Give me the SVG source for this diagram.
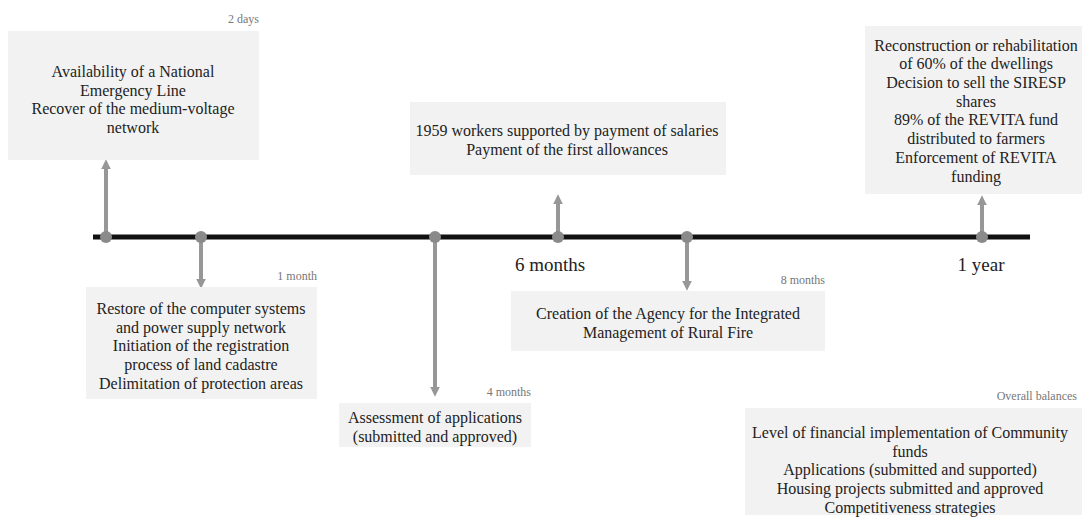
<svg xmlns="http://www.w3.org/2000/svg" width="1082" height="520" viewBox="0 0 1082 520">
<style>
.box{fill:#f2f2f2}
.t{font-family:"Liberation Serif","Times New Roman",serif;font-size:16px;fill:#222;text-anchor:middle}
.lbl{font-family:"Liberation Serif","Times New Roman",serif;font-size:12px;fill:#777;text-anchor:end}
.big{font-family:"Liberation Serif","Times New Roman",serif;font-size:19px;fill:#222;text-anchor:middle}
.arr{stroke:#979797;stroke-width:4;fill:none;marker-end:url(#ah)}
.dot{fill:#8a8a8a}
</style>
<defs>
<marker id="ah" viewBox="0 0 10 10" refX="2" refY="5" markerWidth="2.4" markerHeight="2.4" orient="auto" markerUnits="strokeWidth">
<path d="M0,0 L10,5 L0,10 z" fill="#979797"/>
</marker>
</defs>
<rect width="1082" height="520" fill="#fff"/>
<g id="timeline">
<line x1="93" y1="237" x2="1030" y2="237" stroke="#111" stroke-width="5"/>
<text class="big" x="550" y="271">6 months</text>
<text class="big" x="981" y="271">1 year</text>
</g>
<g id="connectors">
<line class="arr" x1="106" y1="237" x2="106" y2="167"/>
<line class="arr" x1="201" y1="237" x2="201" y2="281"/>
<line class="arr" x1="435" y1="237" x2="435" y2="389"/>
<line class="arr" x1="558" y1="237" x2="558" y2="202"/>
<line class="arr" x1="687" y1="237" x2="687" y2="283"/>
<line class="arr" x1="982" y1="237" x2="982" y2="203"/>
<circle class="dot" cx="106" cy="237" r="6"/>
<circle class="dot" cx="201" cy="237" r="6"/>
<circle class="dot" cx="435" cy="237" r="6"/>
<circle class="dot" cx="558" cy="237" r="6"/>
<circle class="dot" cx="687" cy="237" r="6"/>
<circle class="dot" cx="982" cy="237" r="6"/>
</g>
<g id="n-2days">
<text class="lbl" x="259" y="23">2 days</text>
<rect class="box" x="8" y="31" width="251" height="129"/>
<text class="t" x="133" y="77">Availability of a National</text>
<text class="t" x="133" y="95.5">Emergency Line</text>
<text class="t" x="133" y="114">Recover of the medium-voltage</text>
<text class="t" x="133" y="132.5">network</text>
</g>
<g id="n-1month">
<text class="lbl" x="317" y="280">1 month</text>
<rect class="box" x="86" y="287" width="231" height="112"/>
<text class="t" x="201" y="313.5">Restore of the computer systems</text>
<text class="t" x="201" y="332.5">and power supply network</text>
<text class="t" x="201" y="351">Initiation of the registration</text>
<text class="t" x="201" y="369.5">process of land cadastre</text>
<text class="t" x="201" y="388.5">Delimitation of protection areas</text>
</g>
<g id="n-4months">
<text class="lbl" x="531" y="396">4 months</text>
<rect class="box" x="339" y="403" width="192" height="44"/>
<text class="t" x="435" y="422.5">Assessment of applications</text>
<text class="t" x="435" y="441.5">(submitted and approved)</text>
</g>
<g id="n-6months">
<rect class="box" x="410" y="102" width="316" height="73"/>
<text class="t" x="567" y="136">1959 workers supported by payment of salaries</text>
<text class="t" x="567" y="155">Payment of the first allowances</text>
</g>
<g id="n-8months">
<text class="lbl" x="825" y="284">8 months</text>
<rect class="box" x="511" y="291" width="314" height="60"/>
<text class="t" x="668" y="318.5">Creation of the Agency for the Integrated</text>
<text class="t" x="668" y="337.5">Management of Rural Fire</text>
</g>
<g id="n-1year">
<rect class="box" x="865" y="26" width="217" height="168"/>
<text class="t" x="976" y="50.5">Reconstruction or rehabilitation</text>
<text class="t" x="976" y="69">of 60% of the dwellings</text>
<text class="t" x="976" y="88">Decision to sell the SIRESP</text>
<text class="t" x="976" y="106.5">shares</text>
<text class="t" x="976" y="125">89% of the REVITA fund</text>
<text class="t" x="976" y="144">distributed to farmers</text>
<text class="t" x="976" y="162.5">Enforcement of REVITA</text>
<text class="t" x="976" y="181.5">funding</text>
</g>
<g id="n-overall">
<text class="lbl" x="1077" y="400">Overall balances</text>
<rect class="box" x="745" y="408" width="337" height="107"/>
<text class="t" x="910" y="437.5">Level of financial implementation of Community</text>
<text class="t" x="910" y="456.5">funds</text>
<text class="t" x="910" y="475">Applications (submitted and supported)</text>
<text class="t" x="910" y="493.5">Housing projects submitted and approved</text>
<text class="t" x="910" y="512.5">Competitiveness strategies</text>
</g>
</svg>
